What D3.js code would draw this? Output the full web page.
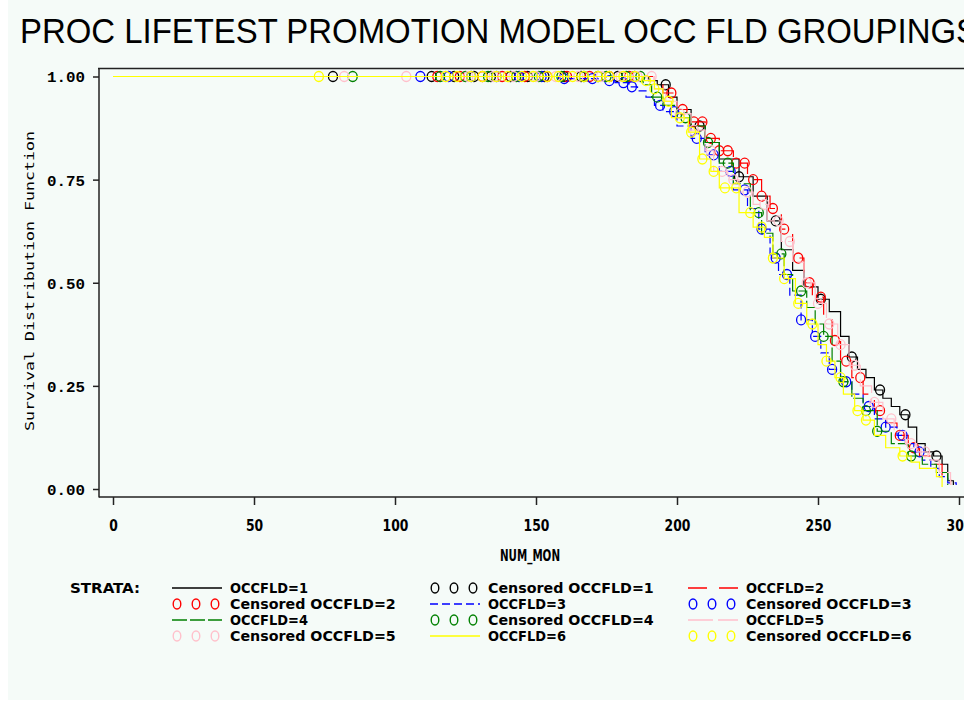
<!DOCTYPE html>
<html><head><meta charset="utf-8">
<script src="https://cdn.jsdelivr.net/npm/d3@7"></script>
<style>html,body{margin:0;padding:0;background:#fff;} svg{display:block}</style>
</head><body><svg id="c" width="964" height="701"></svg>
<script>
// ---------------- data ----------------
const titleText = "PROC LIFETEST PROMOTION MODEL OCC FLD GROUPINGS";
const xLabel = "NUM_MON";
const yLabel = "Survival Distribution Function";
const xTicks = [0, 50, 100, 150, 200, 250, 300];
const xTickLabels = ["0", "50", "100", "150", "200", "250", "300"];
const yTicks = [0, 0.25, 0.5, 0.75, 1];
const yTickLabels = ["0.00", "0.25", "0.50", "0.75", "1.00"];
const strata = ["OCCFLD=1", "OCCFLD=2", "OCCFLD=3", "OCCFLD=4", "OCCFLD=5", "OCCFLD=6"];

// event times and survival after each event
const eventT1 = [190,193,197,200,205,210,215,222,227,232,237,241,245,250,254,258,261,264,267,270,273,276,279,282,285,288,291,294,296,298];
const surv1   = [0.99,0.98,0.95,0.92,0.88,0.84,0.80,0.757,0.71,0.65,0.58,0.53,0.49,0.46,0.43,0.37,0.32,0.29,0.27,0.24,0.22,0.20,0.18,0.15,0.11,0.09,0.08,0.06,0.02,0.01];
const cens1   = [78,113,121,128,134,141,147,153,160,166,172,179,185,196,208,222,235,251,262,272,281,292];

const eventT2 = [192,195,200,205,210,215,220,225,230,233,237,241,245,248,252,255,258,262,266,270,274,278,282,286,290,294,297];
const surv2   = [0.98,0.96,0.92,0.89,0.85,0.82,0.79,0.75,0.71,0.68,0.63,0.56,0.50,0.465,0.41,0.36,0.31,0.27,0.23,0.19,0.16,0.13,0.10,0.08,0.06,0.03,0.01];
const cens2   = [115,123,131,138,146,154,161,169,176,183,198,202,206,209,212,215,218,221,224,227,230,234,238,243,247,251,256,260,265,272,279,284];

const eventT3 = [158,172,178,183,186,189,192,195,200,205,210,215,220,225,229,233,236,240,244,248,251,254,258,262,266,270,274,278,281,284,287,290,293,296,299];
const surv3   = [0.995,0.99,0.985,0.975,0.965,0.95,0.93,0.915,0.88,0.85,0.81,0.77,0.725,0.68,0.63,0.56,0.52,0.47,0.41,0.37,0.33,0.29,0.26,0.23,0.20,0.17,0.15,0.13,0.11,0.09,0.07,0.05,0.03,0.015,0.01];
const cens3   = [109,119,127,136,144,152,160,170,176,181,184,194,199,207,213,219,224,230,235,239,244,249,255,260,268,274,280,286];

const eventT4 = [188,191,195,200,205,210,215,220,226,230,234,238,241,246,249,252,255,258,262,266,271,276,282,287,292,296];
const surv4   = [0.98,0.95,0.93,0.90,0.88,0.84,0.79,0.74,0.67,0.62,0.57,0.52,0.48,0.44,0.40,0.37,0.31,0.26,0.22,0.19,0.14,0.11,0.08,0.06,0.04,0.01];
const cens4   = [85,116,125,133,143,151,159,167,175,182,187,193,203,211,218,229,237,244,252,259,267,271,283];

const eventT5 = [192,196,200,205,210,213,218,222,227,232,237,241,245,249,253,257,261,265,269,273,277,281,285,289,293,297];
const surv5   = [0.97,0.94,0.91,0.87,0.82,0.77,0.75,0.72,0.69,0.65,0.60,0.55,0.50,0.45,0.40,0.35,0.30,0.25,0.21,0.17,0.14,0.11,0.09,0.07,0.04,0.01];
const cens5   = [82,104,118,126,135,142,150,157,165,173,180,186,191,201,206,212,216,220,225,231,236,240,246,250,254,258,263,270,276,283,288];

const eventT6 = [188,192,195,198,204,208,212,215,222,227,231,234,238,242,246,250,253,256,259,263,266,270,274,279,283,286,292,294];
const surv6   = [0.99,0.97,0.94,0.90,0.865,0.80,0.77,0.73,0.67,0.635,0.61,0.56,0.51,0.45,0.40,0.35,0.31,0.27,0.23,0.19,0.167,0.13,0.10,0.08,0.065,0.05,0.03,0.005];
const cens6   = [73,118,122,127,131,136,140,145,149,154,158,163,167,172,176,181,185,189,192,197,201,205,209,213,217,221,226,230,234,238,243,248,253,258,264,267,280];

// ---------------- styles ----------------
const colors = ["#000000", "#ff0000", "#0000ff", "#008000", "#ffc0cb", "#ffff00"];
const dashes = [null, "19,12", "8,4", "15,3", "25,5", null];

const series = [
  {t: eventT1, s: surv1, c: cens1},
  {t: eventT2, s: surv2, c: cens2},
  {t: eventT3, s: surv3, c: cens3},
  {t: eventT4, s: surv4, c: cens4},
  {t: eventT5, s: surv5, c: cens5},
  {t: eventT6, s: surv6, c: cens6}
];

// ---------------- drawing ----------------
const svg = d3.select("#c");
svg.append("rect").attr("x", 8).attr("y", 0).attr("width", 956).attr("height", 700).attr("fill", "#f5fbf8");

const x = d3.scaleLinear().domain([0, 300]).range([113, 959]);
const y = d3.scaleLinear().domain([0, 1]).range([489, 76.5]);

const boldFont = "'Liberation Sans Narrow','DejaVu Sans Condensed','Arial Narrow',sans-serif";
const monoFont = "'Liberation Mono','DejaVu Sans Mono',monospace";

// title
svg.append("text").attr("x", 20).attr("y", 43)
  .attr("font-family", "'Liberation Sans Narrow','Liberation Sans',sans-serif")
  .attr("font-size", 35).attr("fill", "#000")
  .attr("textLength", 958).attr("lengthAdjust", "spacingAndGlyphs")
  .text(titleText);

// frame
const frame = svg.append("g").attr("stroke", "#222").attr("stroke-width", 1.5).attr("fill", "none");
frame.append("path").attr("d", "M98,68.5H964");
frame.append("path").attr("d", "M99,68V497.5");
frame.append("path").attr("d", "M99,497H964");

// y axis
const yAxis = svg.append("g").attr("transform", "translate(99,0)")
  .call(d3.axisLeft(y).tickValues(yTicks).tickSize(6).tickPadding(8)
    .tickFormat((d, i) => yTickLabels[i]));
yAxis.select(".domain").remove();
yAxis.selectAll(".tick line").attr("stroke", "#222").attr("stroke-width", 1.5);
yAxis.selectAll(".tick text")
  .attr("font-family", monoFont).attr("font-weight", "bold").attr("font-size", 15)
  .attr("fill", "#000").attr("dy", "0.36em")
  .attr("textLength", 38).attr("lengthAdjust", "spacingAndGlyphs");

// x axis
const xAxis = svg.append("g").attr("transform", "translate(0,497)")
  .call(d3.axisBottom(x).tickValues(xTicks).tickSize(8)
    .tickFormat((d, i) => xTickLabels[i]));
xAxis.select(".domain").remove();
xAxis.selectAll(".tick line").attr("stroke", "#222").attr("stroke-width", 1.5);
xAxis.selectAll(".tick text")
  .attr("font-family", boldFont).attr("font-weight", "bold").attr("font-size", 16)
  .attr("fill", "#000").attr("y", 28).attr("dy", "0.36em")
  .each(function(d, i) {
    const n = xTickLabels[i].length;
    d3.select(this).attr("textLength", n * 8.6).attr("lengthAdjust", "spacingAndGlyphs");
  });

// axis labels
svg.append("text").attr("x", 530).attr("y", 555).attr("dy", "0.36em")
  .attr("text-anchor", "middle").attr("font-family", boldFont).attr("font-weight", "bold")
  .attr("font-size", 16).attr("textLength", 60).attr("lengthAdjust", "spacingAndGlyphs")
  .text(xLabel);
svg.append("text").attr("transform", "translate(29,281) rotate(-90)")
  .attr("text-anchor", "middle").attr("dy", "0.36em")
  .attr("font-family", "'DejaVu Sans Mono',monospace").attr("font-size", 13)
  .attr("textLength", 300).attr("lengthAdjust", "spacingAndGlyphs")
  .text(yLabel);

// curves
const line = d3.line().x(d => x(d[0])).y(d => y(d[1])).curve(d3.curveStepAfter);
function survAt(sr, t) {
  let s = 1;
  for (let i = 0; i < sr.t.length; i++) if (sr.t[i] <= t) s = sr.s[i];
  return s;
}
const plot = svg.append("g");
series.forEach((sr, k) => {
  const pts = [[0, 1]].concat(sr.t.map((t, i) => [t, sr.s[i]]));
  const g = plot.append("g");
  const p = g.append("path").attr("d", line(pts)).attr("fill", "none")
    .attr("stroke", colors[k]).attr("stroke-width", 1.2);
  if (dashes[k]) p.attr("stroke-dasharray", dashes[k]);
  g.selectAll("ellipse").data(sr.c).enter().append("ellipse")
    .attr("cx", d => x(d)).attr("cy", d => y(survAt(sr, d)))
    .attr("rx", 4.5).attr("ry", 5).attr("fill", "none")
    .attr("stroke", colors[k]).attr("stroke-width", 1.3);
});

// legend
svg.append("text").attr("x", 70).attr("y", 588).attr("dy", "0.36em")
  .attr("font-family", boldFont).attr("font-weight", "bold").attr("font-size", 14)
  .attr("textLength", 70).attr("lengthAdjust", "spacingAndGlyphs").text("STRATA:");

const colX = [172, 430, 688];
const rowY = [588, 604, 620, 636];
const legendItems = [];
for (let k = 0; k < 6; k++) {
  legendItems.push({type: "line", s: k});
  legendItems.push({type: "cens", s: k});
}
const leg = svg.append("g");
legendItems.forEach((it, i) => {
  const cx = colX[i % 3], cy = rowY[Math.floor(i / 3)];
  const g = leg.append("g");
  if (it.type === "line") {
    const l = g.append("line").attr("x1", cx).attr("x2", cx + 50).attr("y1", cy).attr("y2", cy)
      .attr("stroke", colors[it.s]).attr("stroke-width", 1.5);
    if (dashes[it.s]) l.attr("stroke-dasharray", dashes[it.s]);
  } else {
    [5, 24, 43].forEach(o => g.append("ellipse").attr("cx", cx + o).attr("cy", cy)
      .attr("rx", 3.8).attr("ry", 5).attr("fill", "none")
      .attr("stroke", colors[it.s]).attr("stroke-width", 1.4));
  }
  const label = (it.type === "cens" ? "Censored " : "") + strata[it.s];
  g.append("text").attr("x", cx + 58).attr("y", cy).attr("dy", "0.36em")
    .attr("font-family", boldFont).attr("font-weight", "bold").attr("font-size", 14)
    .attr("textLength", label.length * 9.75).attr("lengthAdjust", "spacingAndGlyphs")
    .text(label);
});
</script>
</body></html>
